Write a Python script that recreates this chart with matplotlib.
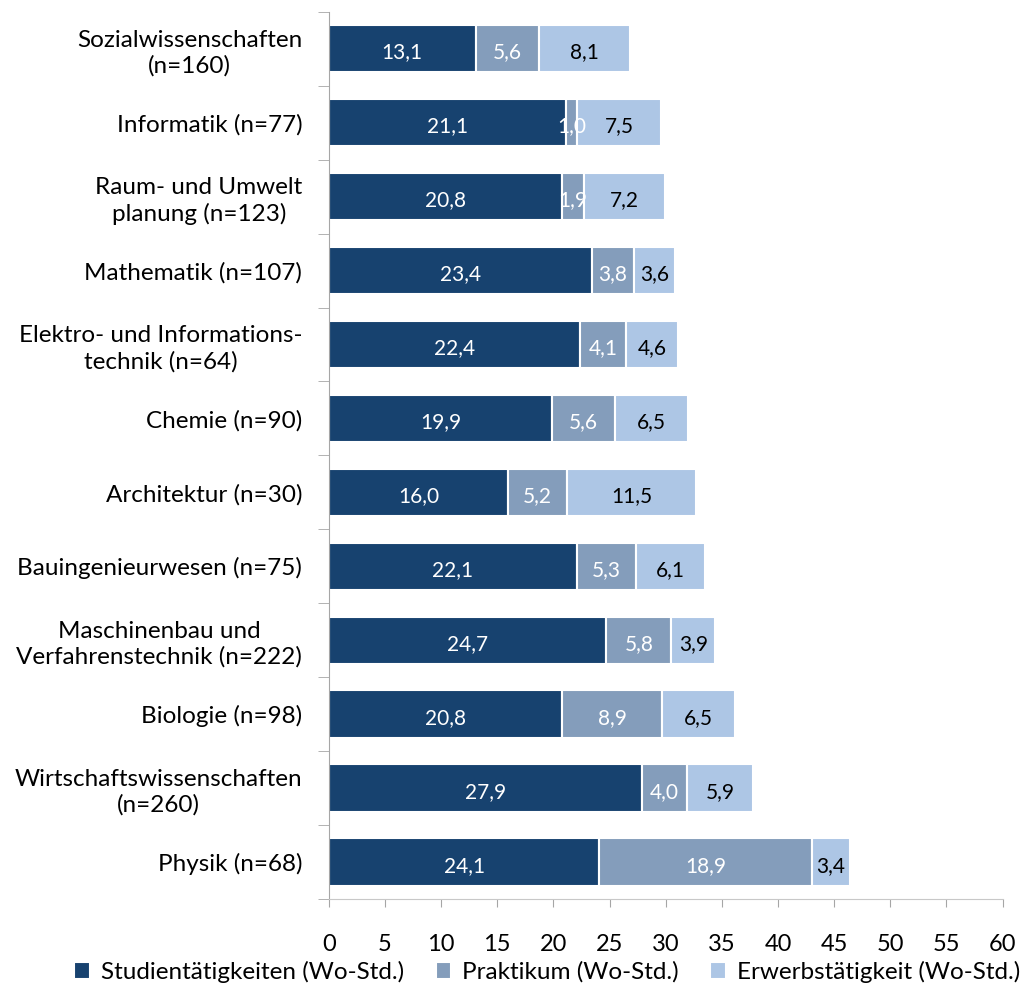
import matplotlib
matplotlib.use('Agg')
import matplotlib.pyplot as plt
import numpy as np

plt.rcParams['font.family'] = ['Lato', 'DejaVu Sans']

categories = [
    'Sozialwissenschaften\n(n=160)',
    'Informatik (n=77)',
    'Raum- und Umwelt\nplanung (n=123)',
    'Mathematik (n=107)',
    'Elektro- und Informations-\ntechnik (n=64)',
    'Chemie (n=90)',
    'Architektur (n=30)',
    'Bauingenieurwesen (n=75)',
    'Maschinenbau und\nVerfahrenstechnik (n=222)',
    'Biologie (n=98)',
    'Wirtschaftswissenschaften\n(n=260)',
    'Physik (n=68)',
]
studium = [13.1, 21.1, 20.8, 23.4, 22.4, 19.9, 16.0, 22.1, 24.7, 20.8, 27.9, 24.1]
praktikum = [5.6, 1.0, 1.9, 3.8, 4.1, 5.6, 5.2, 5.3, 5.8, 8.9, 4.0, 18.9]
erwerb = [8.1, 7.5, 7.2, 3.6, 4.6, 6.5, 11.5, 6.1, 3.9, 6.5, 5.9, 3.4]
series_names = ['Studientätigkeiten (Wo-Std.)', 'Praktikum (Wo-Std.)', 'Erwerbstätigkeit (Wo-Std.)']
colors = ['#17426F', '#849DBB', '#ADC6E5']
text_colors = ['white', 'white', 'black']

fig = plt.figure(figsize=(10.21, 9.9), dpi=100)
ax = fig.add_axes([0.322, 0.092, 0.66, 0.896])

y = np.arange(len(categories))
left = np.zeros(len(categories))
for vals, name, col, tcol in zip([studium, praktikum, erwerb], series_names, colors, text_colors):
    vals = np.array(vals)
    ax.barh(y, vals, left=left, height=0.64, color=col, edgecolor='white', linewidth=1.5, label=name)
    for yi, l, v in zip(y, left, vals):
        ax.text(l + v / 2, yi + 0.05, f'{v:.1f}'.replace('.', ','), ha='center', va='center',
                color=tcol, fontsize=15)
    left = left + vals

ax.set_ylim(len(categories) - 0.5, -0.5)
ax.set_xlim(0, 60)
ax.set_xticks(np.arange(0, 61, 5))
ax.set_yticks(y)
ax.set_yticklabels(categories, fontsize=17.5, multialignment='center', linespacing=1.25)
ax.set_yticks(np.arange(-0.5, len(categories), 1), minor=True)
ax.tick_params(axis='y', which='major', length=0, pad=19)
ax.tick_params(axis='y', which='minor', length=8, color='#A6A6A6', direction='out')
ax.tick_params(axis='x', length=6, color='#A6A6A6', labelsize=17, pad=19)

for s in ['top', 'right']:
    ax.spines[s].set_visible(False)
ax.spines['left'].set_color('#A6A6A6')
ax.spines['bottom'].set_color('#C8C8C8')

fig.legend(loc='center', bbox_to_anchor=(0.536, 1 - 972 / 990), ncol=3, frameon=False,
           fontsize=17.5, handlelength=0.65, handleheight=0.65, handletextpad=0.45,
           columnspacing=1.3, borderpad=0, borderaxespad=0)

fig.savefig('out.png', dpi=100)
